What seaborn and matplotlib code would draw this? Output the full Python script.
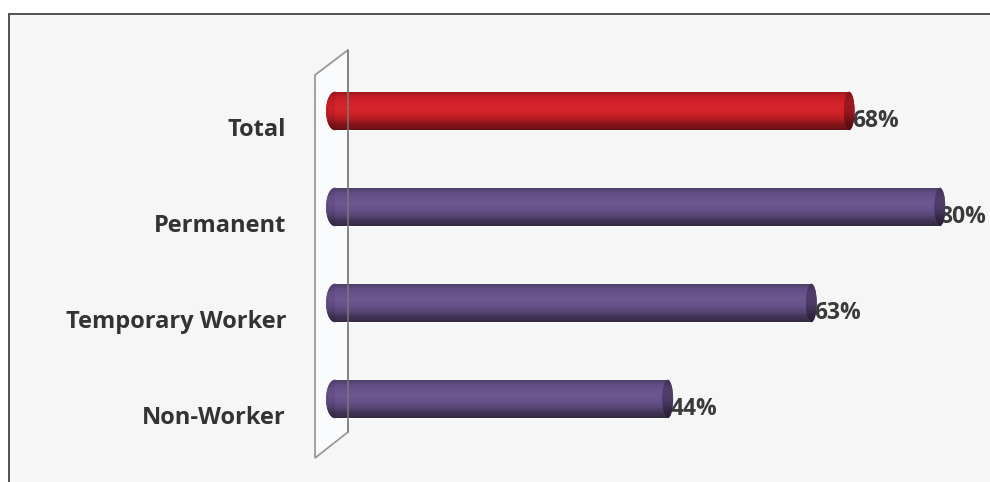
import numpy as np
import matplotlib
matplotlib.use("Agg")
import matplotlib.pyplot as plt
import seaborn as sns
from matplotlib.patches import Polygon, Ellipse, Rectangle
from matplotlib.lines import Line2D
from matplotlib.colors import to_rgba

categories = ["Total", "Permanent", "Temporary Worker", "Non-Worker"]
values = [68, 80, 63, 44]
value_labels = ["68%", "80%", "63%", "44%"]
bar_colors = ["#d42129", "#6a548e", "#6a548e", "#6a548e"]

sns.set_theme(style="white")
plt.rcParams["font.family"] = ["Open Sans", "DejaVu Sans"]

W, H = 990, 482
fig = plt.figure(figsize=(W / 100, H / 100), dpi=100)
fig.patch.set_facecolor("white")

# background panel + frame
fig.patches.append(Rectangle((10 / W, 0), 1 - 10 / W, 1 - 15 / H, transform=fig.transFigure,
                             facecolor="#f6f6f6", edgecolor="none", zorder=-10))
fig.lines.append(Line2D([9 / W, 1], [1 - 14 / H, 1 - 14 / H], transform=fig.transFigure,
                        color="#444444", lw=1.3, zorder=-9))
fig.lines.append(Line2D([9 / W, 9 / W], [0, 1 - 14 / H], transform=fig.transFigure,
                        color="#444444", lw=1.3, zorder=-9))

ax = fig.add_axes([0, 0, 1, 1])
ax.set_facecolor("none")
ax.set_zorder(1)

PX_PER_X = 7.56
X0_PX = 335
PX_PER_Y = 96.0
Y0_PX = 111

sns.barplot(x=values, y=categories, hue=categories, palette=bar_colors, orient="h",
            width=0.4, legend=False, ax=ax, saturation=1, zorder=3)

ax.set_xlim(-X0_PX / PX_PER_X, (W - X0_PX) / PX_PER_X)
ax.set_ylim((H - Y0_PX) / PX_PER_Y, -Y0_PX / PX_PER_Y)
ax.axis("off")

def px2x(p):
    return (p - X0_PX) / PX_PER_X

def py2y(p):
    return (p - Y0_PX) / PX_PER_Y

# back wall (parallelogram)
wall = Polygon([(px2x(315), py2y(75)), (px2x(348), py2y(50)), (px2x(348), py2y(432)),
                (px2x(315), py2y(458))], closed=True, facecolor="#f9fbfc",
               edgecolor="#9a9a9a", lw=1.3, zorder=1)
ax.add_patch(wall)


def shade(base, factors):
    c = np.array(to_rgba(base))
    out = []
    for f in factors:
        rgb = c[:3] * f if f <= 1 else c[:3] + (1 - c[:3]) * (f - 1)
        out.append(np.concatenate([np.clip(rgb, 0, 1), [1.0]]))
    return np.array(out)


def gradient(ax, clip, x0, x1, yc, h, base, factors, z):
    cols = shade(base, factors)
    n = 64
    t = np.linspace(0, 1, len(cols))
    tt = np.linspace(0, 1, n)
    img = np.stack([np.interp(tt, t, cols[:, k]) for k in range(4)], axis=1)[:, None, :]
    im = ax.imshow(img, extent=(x0, x1, yc + h / 2, yc - h / 2), aspect="auto",
                   origin="upper", zorder=z, interpolation="bilinear")
    im.set_clip_path(clip)


body_f = [0.72, 0.92, 1.0, 1.02, 0.98, 0.85, 0.62, 0.5]
cap_f = [0.55, 0.7, 0.75, 0.72, 0.6, 0.45, 0.38]
lcap_f = [0.66, 0.85, 0.93, 0.95, 0.9, 0.78, 0.57, 0.46]
cap_left_w = 18 / PX_PER_X
cap_right_w = 11 / PX_PER_X

for i, (p, v, col) in enumerate(zip(list(ax.patches), values, bar_colors)):
    yc = p.get_y() + p.get_height() / 2
    h = p.get_height()
    lcap = Ellipse((0, yc), cap_left_w, h, facecolor=col, edgecolor="none", zorder=3)
    ax.add_patch(lcap)
    gradient(ax, lcap, -cap_left_w / 2, cap_left_w / 2, yc, h, col, lcap_f, 3.5)
    gradient(ax, p, 0, v, yc, h, col, body_f, 4)
    rcap = Ellipse((v, yc), cap_right_w, h, facecolor=col, edgecolor="none", zorder=5)
    ax.add_patch(rcap)
    gradient(ax, rcap, v - cap_right_w / 2, v + cap_right_w / 2, yc, h, col, cap_f, 5.5)

# keep the axes limits after imshow
ax.set_xlim(-X0_PX / PX_PER_X, (W - X0_PX) / PX_PER_X)
ax.set_ylim((H - Y0_PX) / PX_PER_Y, -Y0_PX / PX_PER_Y)

# wall front edge line visible through bars
ax.plot([px2x(348), px2x(348)], [py2y(50), py2y(432)], color="#7a7a7a", lw=1.2,
        alpha=0.9, zorder=8)

# category labels
for i, c in enumerate(categories):
    ax.text(px2x(286), i + 0.26, c, ha="right", va="baseline", fontsize=17,
            fontweight="bold", color="#333333", zorder=7)

# value labels
right_limit = px2x(986)
for i, (v, lab) in enumerate(zip(values, value_labels)):
    t = ax.text(v + 0.4, i + 0.17, lab, ha="left", va="baseline", fontsize=16.5,
                fontweight="bold", color="#3a3a3a", zorder=4.8)
    fig.canvas.draw()
    bb = t.get_window_extent().transformed(ax.transData.inverted())
    if bb.x1 > right_limit:
        t.set_x(v + 0.4 - (bb.x1 - right_limit))

fig.savefig("out.png", dpi=100, facecolor="white")
